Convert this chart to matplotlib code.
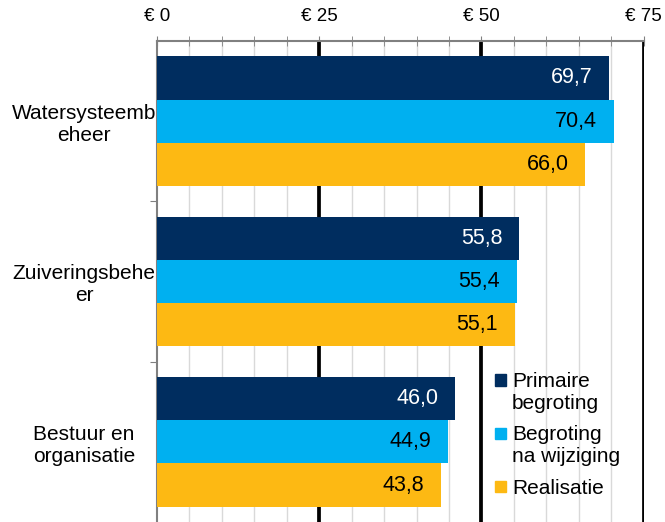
import matplotlib.pyplot as plt
import numpy as np
from matplotlib.patches import Rectangle
from matplotlib.legend_handler import HandlerPatch

plt.rcParams['font.family'] = ['Liberation Sans', 'DejaVu Sans']

categories = ['Watersysteemb\neheer', 'Zuiveringsbehe\ner', 'Bestuur en\norganisatie']
series = ['Primaire\nbegroting', 'Begroting\nna wijziging', 'Realisatie']
primaire = [69.7, 55.8, 46.0]
gewijzigd = [70.4, 55.4, 44.9]
realisatie = [66.0, 55.1, 43.8]
colors = ['#002D5F', '#00B0F0', '#FDB913']
text_colors = ['white', 'black', 'black']

fig = plt.figure(figsize=(6.65, 5.22), dpi=100)
ax = fig.add_axes([0.236, 0.0, 0.732, 0.9215])

y = np.arange(len(categories))
h = 0.27
for i, vals in enumerate([primaire, gewijzigd, realisatie]):
    pos = y + (i - 1) * h
    ax.barh(pos, vals, height=h, color=colors[i], zorder=3)
    for p, v in zip(pos, vals):
        ax.annotate(f'{v:.1f}'.replace('.', ','), xy=(v, p), xytext=(-12, 0),
                    textcoords='offset points', ha='right', va='center',
                    fontsize=15.5, color=text_colors[i], zorder=4)

ax.set_xlim(0, 75)
ax.set_ylim(2.5, -0.5)

# gridlines
for gx in np.arange(5, 75, 5):
    if gx % 25 != 0:
        ax.axvline(gx, color='#D9D9D9', lw=1, zorder=1)
for gx in [25, 50, 75]:
    ax.axvline(gx, color='black', lw=2.7, zorder=2)

ax.xaxis.tick_top()
ax.set_xticks([0, 25, 50, 75])
ax.set_xticklabels(['€ 0', '€ 25', '€ 50', '€ 75'], fontsize=13.5)
ax.set_xticks(np.arange(0, 76, 5), minor=True)
ax.tick_params(axis='x', which='both', direction='inout', length=7, color='#808080', pad=8)

ax.set_yticks([0.5, 1.5])
ax.set_yticks(y, minor=True)
ax.set_yticklabels([])
ax.set_yticklabels(categories, minor=True, fontsize=15, ha='center')
ax.tick_params(axis='y', which='major', direction='out', length=5, color='#808080')
ax.tick_params(axis='y', which='minor', length=0, pad=52.5)

for s in ['right', 'bottom']:
    ax.spines[s].set_visible(False)
for s in ['top', 'left']:
    ax.spines[s].set_color('#808080')
    ax.spines[s].set_linewidth(1.5)


# legend squares next to the first line of each label
def square(legend, orig_handle, xdescent, ydescent, width, height, fontsize):
    shift = 9 if '\n' in orig_handle.get_label() else 0
    return Rectangle((-xdescent, -ydescent + shift), width, height)


handles = [Rectangle((0, 0), 1, 1, color=c, label=s) for c, s in zip(colors, series)]
ax.legend(handles=handles, loc='lower left', bbox_to_anchor=(0.695, 0.05), frameon=False,
          fontsize=15, handlelength=0.5, handleheight=0.5, handletextpad=0.3,
          labelspacing=0.6, borderpad=0, borderaxespad=0,
          handler_map={Rectangle: HandlerPatch(patch_func=square)})

plt.savefig('out.png', dpi=100)
